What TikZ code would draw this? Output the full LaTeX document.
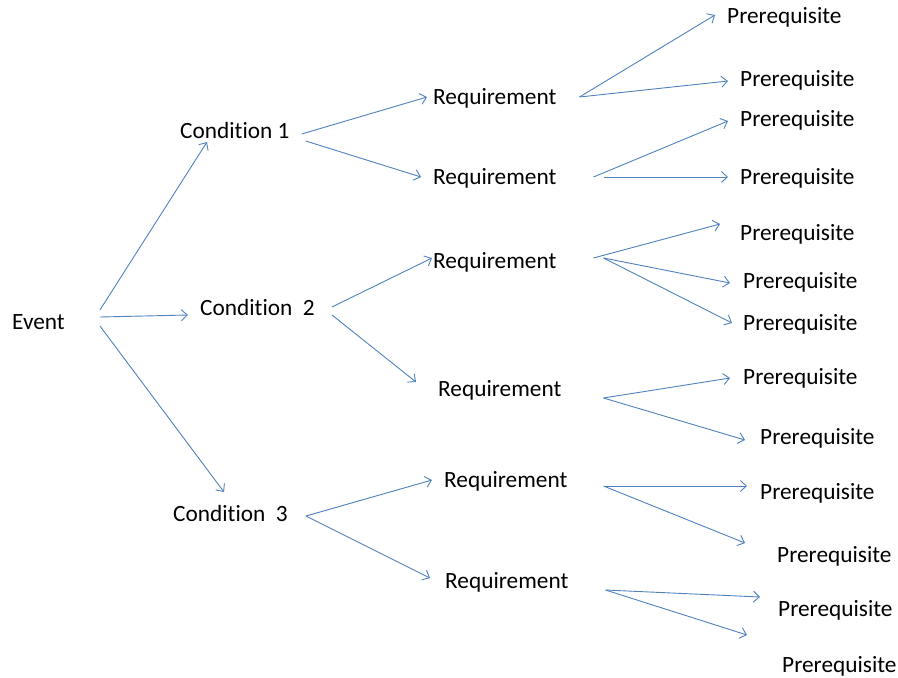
\documentclass[tikz,border=0pt]{standalone}
\usepackage{fontspec}
\setmainfont{Carlito}[Ligatures=CommonOff]
\usetikzlibrary{arrows.meta,calc}
\definecolor{arrowblue}{RGB}{79,129,189}
\begin{document}
\begin{tikzpicture}[x=1pt,y=-1pt,
  lbl/.style={anchor=west,inner sep=0pt,text=black,font=\fontsize{23.3}{27}\selectfont},
  arr/.style={draw=arrowblue,line width=0.9pt,-{Straight Barb[length=6pt,width=11pt]}}]
\useasboundingbox (0,0) rectangle (898,678);

\node[lbl] (event) at (12,322) {Event};

\node[lbl] (cond1) at (180,130) {Condition 1};
\node[lbl] (cond2) at (200,307) {Condition\ \ 2};
\node[lbl] (cond3) at (173,513) {Condition\ \ 3};

\node[lbl] (req1a) at (433,98) {Requirement};
\node[lbl] (req1b) at (433,178) {Requirement};
\node[lbl] (req2a) at (433,262) {Requirement};
\node[lbl] (req2b) at (438,390) {Requirement};
\node[lbl] (req3a) at (444,481) {Requirement};
\node[lbl] (req3b) at (445,582) {Requirement};

\node[lbl] (pre1) at (727,17) {Prerequisite};
\node[lbl] (pre2) at (740,80) {Prerequisite};
\node[lbl] (pre3) at (740,120) {Prerequisite};
\node[lbl] (pre4) at (740,178) {Prerequisite};
\node[lbl] (pre5) at (740,234) {Prerequisite};
\node[lbl] (pre6) at (743,282) {Prerequisite};
\node[lbl] (pre7) at (743,324) {Prerequisite};
\node[lbl] (pre8) at (743,378) {Prerequisite};
\node[lbl] (pre9) at (760,438) {Prerequisite};
\node[lbl] (pre10) at (760,493) {Prerequisite};
\node[lbl] (pre11) at (777,556) {Prerequisite};
\node[lbl] (pre12) at (778,610) {Prerequisite};
\node[lbl] (pre13) at (782,666) {Prerequisite};

\draw[arr] ($(event.east)+(35,-12)$) -- ($(cond1.west)+(27,12)$);
\draw[arr] ($(event.east)+(35,-5)$) -- ($(cond2.west)+(-12,8)$);
\draw[arr] ($(event.east)+(35,4)$) -- ($(cond3.west)+(51,-21)$);

\draw[arr] ($(cond1.east)+(12,4)$) -- ($(req1a.west)+(-6,-1)$);
\draw[arr] ($(cond1.east)+(16,11)$) -- ($(req1b.west)+(-12,-1)$);
\draw[arr] ($(cond2.east)+(17,0)$) -- ($(req2a.west)+(-1,-4)$);
\draw[arr] ($(cond2.east)+(17,8)$) -- ($(req2b.west)+(-22,-8)$);
\draw[arr] ($(cond3.east)+(18,3)$) -- ($(req3a.west)+(-12,-1)$);
\draw[arr] ($(cond3.east)+(18,3)$) -- ($(req3b.west)+(-15,-4)$);

\draw[arr] ($(req1a.east)+(23,-1)$) -- ($(pre1.west)+(-12,-2)$);
\draw[arr] ($(req1a.east)+(23,-1)$) -- ($(pre2.west)+(-12,1)$);
\draw[arr] ($(req1b.east)+(37,-1)$) -- ($(pre3.west)+(-12,1)$);
\draw[arr] ($(req1b.east)+(47,-1)$) -- ($(pre4.west)+(-12,-1)$);
\draw[arr] ($(req2a.east)+(37,-4)$) -- ($(pre5.west)+(-20,-10)$);
\draw[arr] ($(req2a.east)+(47,-4)$) -- ($(pre6.west)+(-13,1)$);
\draw[arr] ($(req2a.east)+(47,-4)$) -- ($(pre7.west)+(-11,-1)$);
\draw[arr] ($(req2b.east)+(42,8)$) -- ($(pre8.west)+(-13,0)$);
\draw[arr] ($(req2b.east)+(42,8)$) -- ($(pre9.west)+(-15,2)$);
\draw[arr] ($(req3a.east)+(36,5)$) -- ($(pre10.west)+(-13,-7)$);
\draw[arr] ($(req3a.east)+(36,5)$) -- ($(pre11.west)+(-32,-13)$);
\draw[arr] ($(req3b.east)+(37,8)$) -- ($(pre12.west)+(-18,-13)$);
\draw[arr] ($(req3b.east)+(37,8)$) -- ($(pre13.west)+(-35,-31)$);
\end{tikzpicture}
\end{document}
